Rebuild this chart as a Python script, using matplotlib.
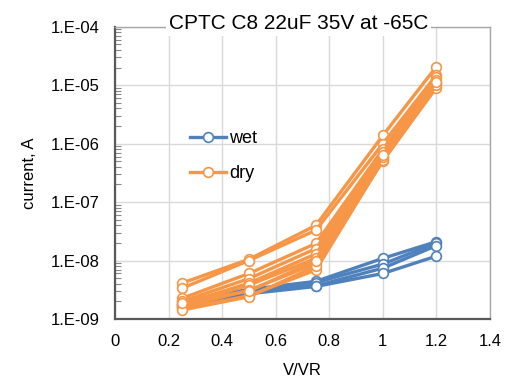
import matplotlib
matplotlib.use("Agg")
import matplotlib.pyplot as plt
from matplotlib.ticker import LogLocator, NullFormatter

plt.rcParams['font.family'] = ['Liberation Sans', 'DejaVu Sans']

# ---- data ----
x_vals = [0.25, 0.5, 0.75, 1.0, 1.2]

wet_series = [
    [2.0e-9, 3.2e-9, 4.4e-9, 1.09e-8, 2.1e-8],
    [1.8e-9, 3.0e-9, 4.2e-9, 8.7e-9, 2.0e-8],
    [1.7e-9, 2.9e-9, 3.7e-9, 7.4e-9, 1.8e-8],
    [1.6e-9, 2.7e-9, 3.6e-9, 6.0e-9, 1.19e-8],
]

dry_series = [
    [4.1e-9, 1.05e-8, 4.0e-8, 1.38e-6, 2.08e-5],
    [3.35e-9, 1.0e-8, 3.3e-8, 1.0e-6, 1.5e-5],
    [2.25e-9, 6.0e-9, 1.96e-8, 8.0e-7, 1.4e-5],
    [2.0e-9, 4.9e-9, 1.6e-8, 7.2e-7, 1.25e-5],
    [1.8e-9, 4.1e-9, 1.3e-8, 6.0e-7, 1.1e-5],
    [1.73e-9, 3.8e-9, 1.09e-8, 5.5e-7, 1.05e-5],
    [1.6e-9, 3.1e-9, 8.9e-9, 5.0e-7, 9.5e-6],
    [1.5e-9, 2.5e-9, 6.9e-9, 5.2e-7, 9.1e-6],
    [1.42e-9, 2.4e-9, 8.0e-9, 6.0e-7, 1.0e-5],
    [1.9e-9, 3.0e-9, 1.0e-8, 6.5e-7, 1.15e-5],
]

x_ticks = [0, 0.2, 0.4, 0.6, 0.8, 1.0, 1.2, 1.4]
x_tick_labels = ["0", "0.2", "0.4", "0.6", "0.8", "1", "1.2", "1.4"]
y_ticks = [1e-9, 1e-8, 1e-7, 1e-6, 1e-5, 1e-4]
y_tick_labels = ["1.E-09", "1.E-08", "1.E-07", "1.E-06", "1.E-05", "1.E-04"]

title = "CPTC C8 22uF 35V at -65C"
wet_color = "#4F81BD"
dry_color = "#F79646"

fig = plt.figure(figsize=(5.31, 3.82), dpi=100)
ax = fig.add_axes([0.2166, 0.165, 0.7062, 0.765])

def draw(series, color, label):
    h = None
    for i, s in enumerate(series):
        l, = ax.plot(x_vals, s, color=color, lw=2.4, marker='o', ms=7,
                     mfc='white', mec=color, mew=1.2, zorder=3,
                     label=label if i == 0 else None)
        if i == 0:
            h = l
    return h

hw = draw(wet_series, wet_color, "wet")
hd = draw(dry_series, dry_color, "dry")

ax.set_yscale('log')
ax.set_xlim(0, 1.4)
ax.set_ylim(1e-9, 1e-4)
ax.set_xticks(x_ticks)
ax.set_xticklabels(x_tick_labels)
ax.set_yticks(y_ticks)
ax.set_yticklabels(y_tick_labels)
ax.yaxis.set_minor_locator(LogLocator(base=10, subs=range(2, 10)))
ax.yaxis.set_minor_formatter(NullFormatter())
ax.tick_params(axis='both', which='major', length=0, labelsize=12,
               colors='black')
ax.tick_params(axis='y', which='major', pad=11)
ax.tick_params(axis='x', which='major', pad=11)
ax.tick_params(axis='y', which='minor', direction='in', length=4,
               width=0.8, color='#888888')

ax.grid(True, which='major', color='#D9D9D9', lw=1.0, zorder=0)
ax.set_axisbelow(True)

for side in ['left', 'bottom']:
    ax.spines[side].set_color('#595959')
    ax.spines[side].set_linewidth(1.6)
for side in ['top', 'right']:
    ax.spines[side].set_color('#A6A6A6')
    ax.spines[side].set_linewidth(1.0)

ax.set_xlabel("V/VR", fontsize=12, labelpad=10)
ax.set_ylabel("current, A", fontsize=12, labelpad=10)

ax.text(0.49, 1.01, title, transform=ax.transAxes, ha='center', va='center',
        fontsize=15, bbox=dict(facecolor='white', edgecolor='none', pad=2),
        zorder=5)

ax.legend(handles=[hw, hd], loc='upper left', bbox_to_anchor=(0.18, 0.67),
          frameon=False, fontsize=13, handlelength=2.0, labelspacing=1.0,
          handletextpad=0.2, borderaxespad=0)

fig.savefig("out.png", dpi=100)
